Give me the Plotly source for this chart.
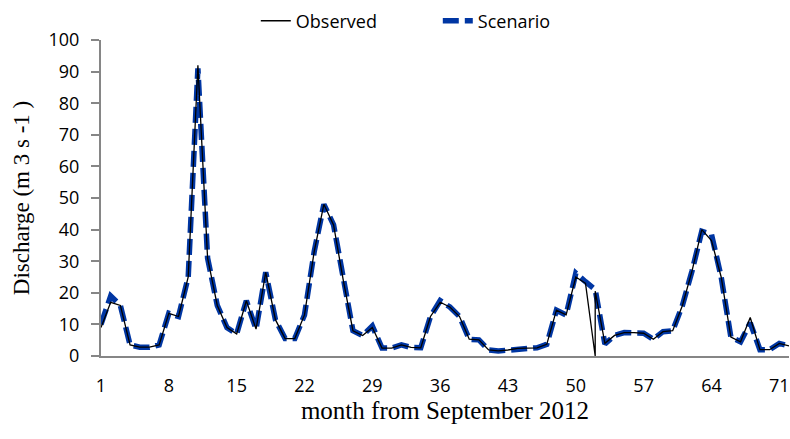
import plotly.graph_objects as go

# Monthly discharge, September 2012 onward (month index 1..72)
months = list(range(1, 73))

scenario = [
    10, 19, 16, 3.5, 2.8, 2.8, 3.5, 13.5, 12.5, 25,
    91, 31, 16, 9, 7, 17.5, 8.5, 26.5, 11.5, 5.5,
    5.5, 13, 33, 48, 41.5, 24, 8, 6.5, 9.5, 2.5,
    2.5, 3.5, 2.7, 2.6, 12.5, 17.5, 15.5, 12.5, 5.3, 5.1,
    1.9, 1.6, 1.9, 2.4, 2.5, 2.6, 3.7, 14.5, 13, 26.2,
    23.5, 21, 3.8, 6.5, 7.4, 7.4, 7.2, 5.3, 7.7, 8,
    16, 27, 39.5, 38.5, 25, 6, 4.5, 10.5, 2, 2,
    4, 3.2,
]

# Observed record has a gap recorded as zero in month 52, followed by the
# reading for the same month, so month 52 appears twice.
obs_months = list(range(1, 53)) + [52] + list(range(53, 73))
observed = [
    9, 17, 16, 3.5, 2.8, 2.8, 3.5, 13.5, 12.5, 25,
    92, 31, 16, 9, 7, 17.5, 8.5, 26.5, 11.5, 5.5,
    5.5, 13, 33, 48, 41.5, 24, 8, 6.5, 9, 2.5,
    2.5, 3.5, 2.7, 2.6, 12.5, 17, 15.5, 12.5, 5.3, 5.1,
    1.9, 1.6, 1.9, 2.4, 2.5, 2.6, 3.7, 14.5, 13, 25,
    23, 0, 20.5, 4, 6.5, 7.4, 7.4, 7.2, 5.3, 7.7,
    8, 16, 27, 40, 36.5, 25, 6, 4.5, 12.2, 2,
    2, 4, 3.2,
]

x_ticks = [1, 8, 15, 22, 29, 36, 43, 50, 57, 64, 71]
y_ticks = list(range(0, 101, 10))

AXIS_GREY = "#868686"
SANS = "Open Sans"
SERIF = "Liberation Serif"

fig = go.Figure()
fig.add_trace(go.Scatter(
    x=months, y=scenario, name="Scenario", mode="lines",
    line=dict(color="#0036A3", width=5.5, dash="16px,6px"),
))
fig.add_trace(go.Scatter(
    x=obs_months, y=observed, name="Observed", mode="lines",
    line=dict(color="#000000", width=1.3),
))

fig.update_layout(
    width=790, height=439,
    margin=dict(l=101, r=1, t=40, b=83),
    paper_bgcolor="white", plot_bgcolor="white",
    font=dict(family=SANS, size=18, color="#000000"),
    showlegend=True,
    legend=dict(
        orientation="h", traceorder="reversed",
        x=0.225, xanchor="left", y=1.06, yanchor="middle",
        entrywidth=137, entrywidthmode="pixels",
        font=dict(family=SANS, size=18),
        bgcolor="rgba(0,0,0,0)",
    ),
    xaxis=dict(
        range=[1, 72], tickvals=x_ticks, ticks="", ticklabelstandoff=12,
        showgrid=False, zeroline=False,
        showline=True, linecolor=AXIS_GREY, linewidth=2,
        title=dict(text="month from September 2012",
                   font=dict(family=SERIF, size=25), standoff=6),
    ),
    yaxis=dict(
        range=[0, 100], tickvals=y_ticks, ticks="outside", ticklen=8,
        tickcolor=AXIS_GREY, tickwidth=1.5, ticklabelstandoff=8,
        showgrid=False, zeroline=False,
        showline=True, linecolor=AXIS_GREY, linewidth=2,
        title=dict(text="Discharge (m 3 s -1 )",
                   font=dict(family=SERIF, size=23), standoff=12),
    ),
)

fig.write_html("out.html")
